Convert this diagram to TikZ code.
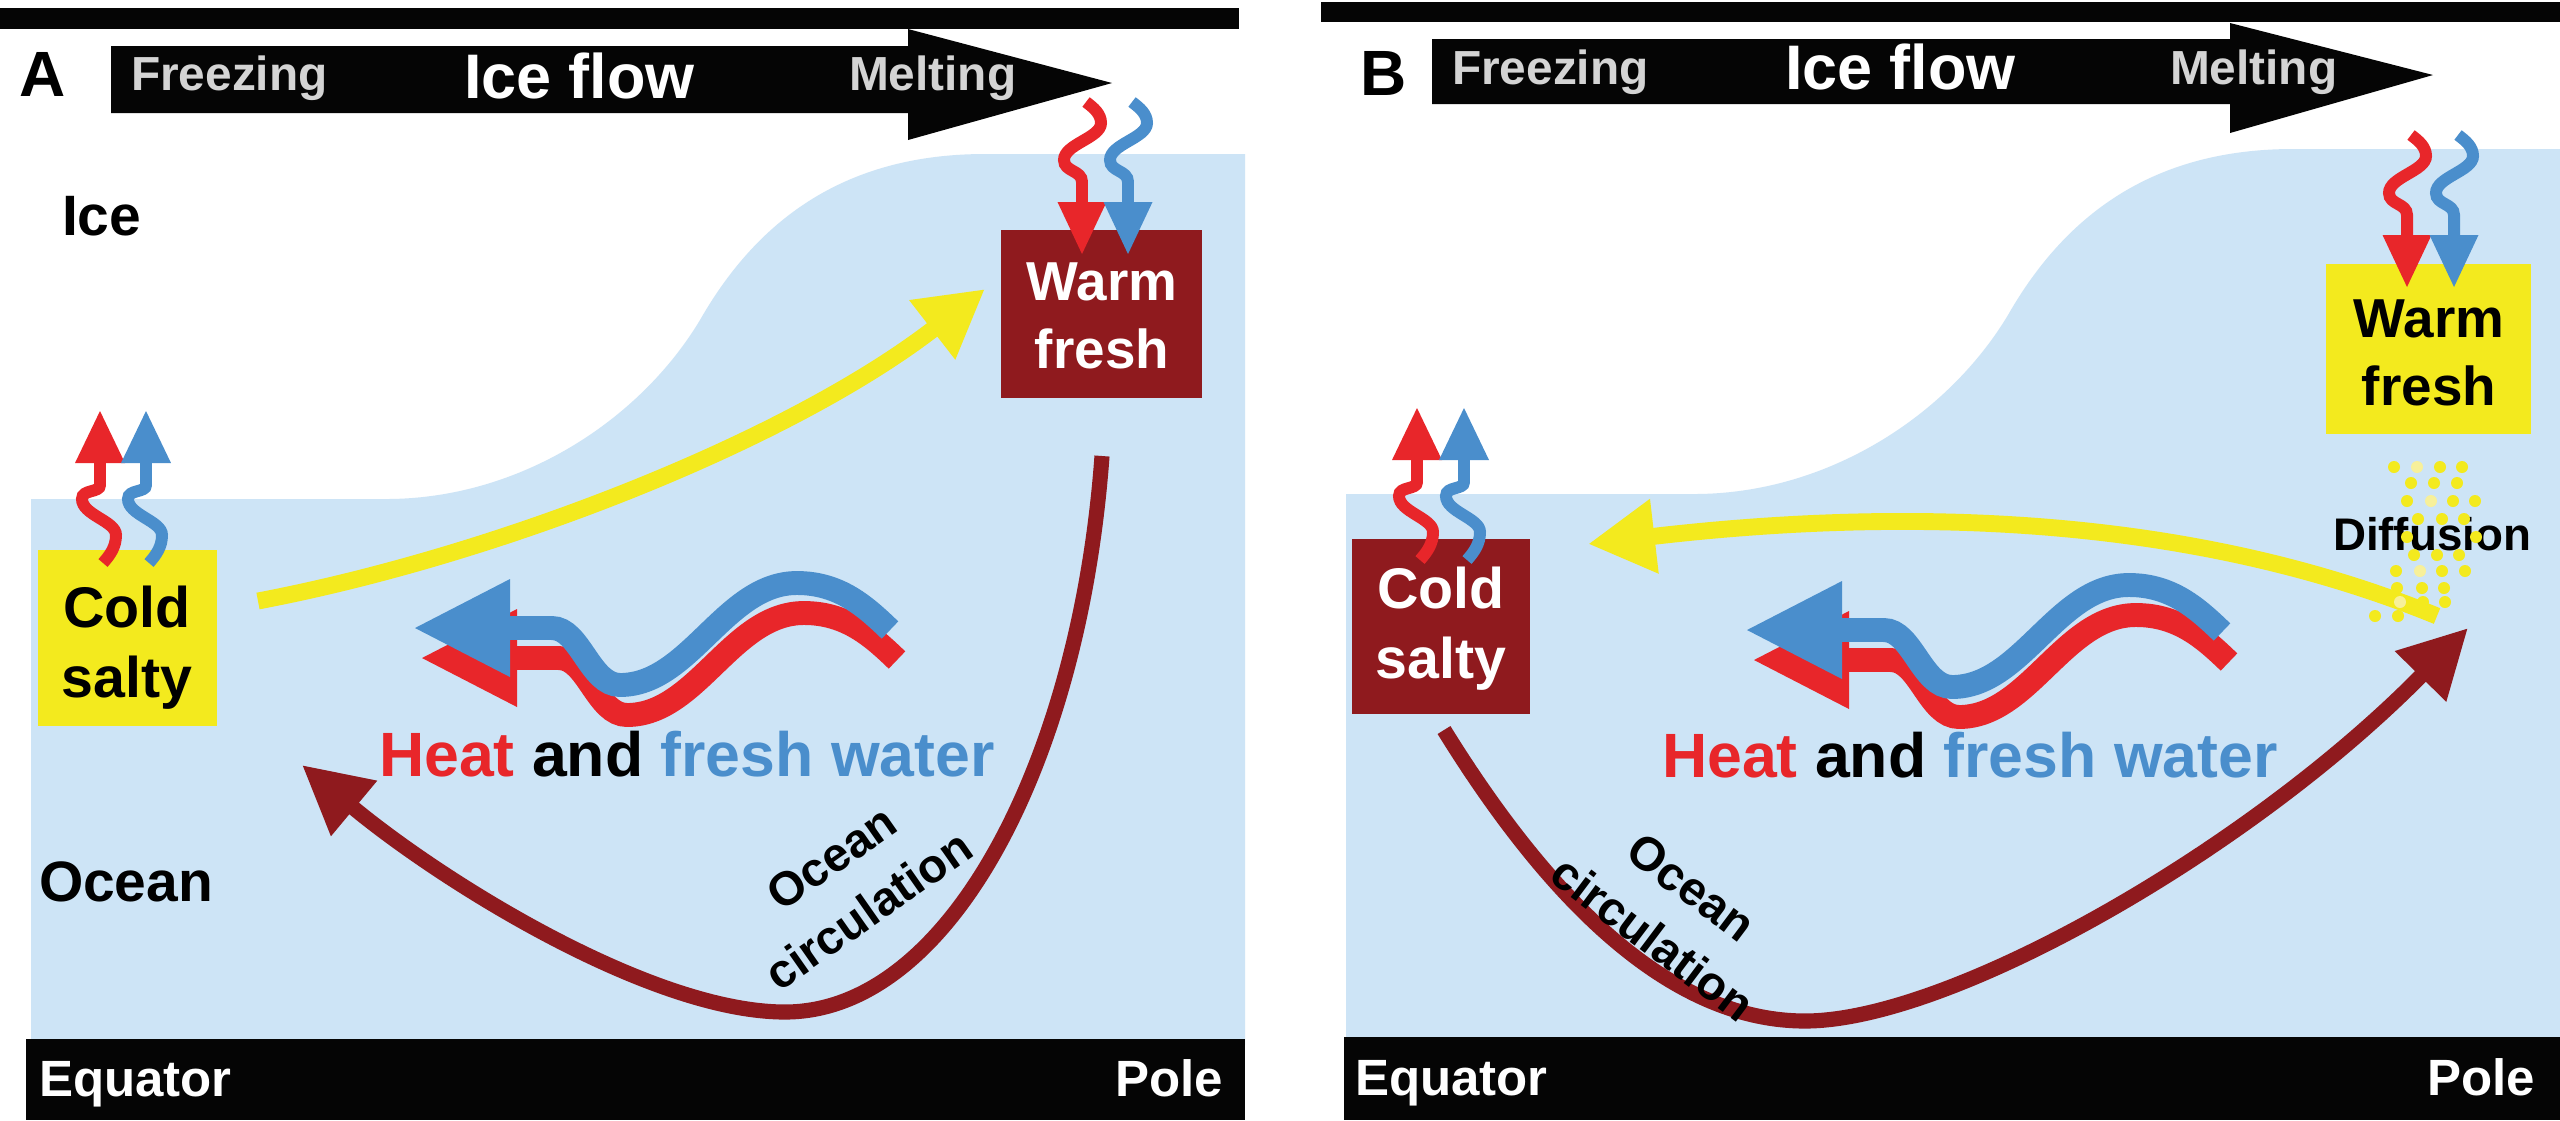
\documentclass[tikz,border=0pt]{standalone}
\usepackage{fontspec}
\setmainfont{Liberation Sans}
\usetikzlibrary{arrows.meta}
\definecolor{oceanblue}{HTML}{CDE4F6}
\definecolor{darkred}{HTML}{8F1A1E}
\definecolor{sunyellow}{HTML}{F3EA1E}
\definecolor{heatred}{HTML}{E8262A}
\definecolor{freshblue}{HTML}{4A8ECC}
\definecolor{greytext}{HTML}{D4D4D4}
\definecolor{barblack}{HTML}{050505}
\definecolor{paledot}{HTML}{F7F09A}
\tikzset{
  txt/.style={inner sep=0pt, outer sep=0pt},
  panelletter/.style={txt, anchor=base west, font=\fontsize{18.2}{20}\selectfont\bfseries},
  flowside/.style={txt, anchor=base west, text=greytext, font=\fontsize{13.6}{16}\selectfont\bfseries},
  flowmain/.style={txt, anchor=base west, text=white, font=\fontsize{17.9}{20}\selectfont\bfseries},
  region/.style={txt, anchor=base west, font=\fontsize{16.2}{18}\selectfont\bfseries},
  barwest/.style={txt, anchor=base west, text=white, font=\fontsize{14.5}{16}\selectfont\bfseries},
  bareast/.style={txt, anchor=base east, text=white, font=\fontsize{14.5}{16}\selectfont\bfseries},
  coldword/.style={txt, anchor=base, font=\fontsize{16.3}{18}\selectfont\bfseries},
  warmword/.style={txt, anchor=base, font=\fontsize{15.6}{18}\selectfont\bfseries},
  waterbox/.style={txt, anchor=north west},
  circlabel/.style={txt, align=center, font=\fontsize{13.5}{18.2}\selectfont\bfseries},
  heatlabel/.style={txt, anchor=base west, font=\fontsize{17.8}{20}\selectfont\bfseries},
  difflabel/.style={txt, anchor=base west, font=\fontsize{13}{15}\selectfont\bfseries},
  circarrow/.style={draw=darkred, line width=4.3pt, -{Triangle[length=19.3pt,width=19.3pt]}},
  yellowarrow/.style={draw=sunyellow, line width=4.8pt, -{Triangle[length=19pt,width=20pt]}},
  waveband/.style={line width=6.8pt, line cap=butt},
  wavyline/.style={line width=3.4pt, line cap=butt},
  pics/meltdown/.style={code={
    \draw[wavyline] (4,-100) .. controls (12,-94) and (19,-88) .. (19,-79)
      .. controls (19,-64) and (-18,-58) .. (-18,-42)
      .. controls (-18,-30) and (0,-32) .. (0,-20) -- (0,2);
    \fill (-24.5,0) -- (24.5,0) -- (0,52) -- cycle;
  }},
  pics/freezeup/.style={code={
    \draw[wavyline] (0,-2) -- (0,22) .. controls (0,30) and (-18,26) .. (-18,36)
      .. controls (-18,52) and (16,58) .. (16,72)
      .. controls (16,84) and (10,92) .. (3,100);
    \fill (-25,0) -- (25,0) -- (0,-52) -- cycle;
  }},
  pics/heatwave/.style={code={
    \draw[waveband, heatred] (512,658) -- (559,658) .. controls (587,658) and (597,715) .. (627,715)
      .. controls (697,715) and (732,613) .. (804,613) .. controls (847,613) and (873,637) .. (897,660);
    \fill[heatred] (422,658) -- (517,609) -- (517,707) -- cycle;
    \draw[waveband, freshblue] (505,628) -- (552,628) .. controls (580,628) and (590,685) .. (620,685)
      .. controls (690,685) and (725,583) .. (797,583) .. controls (840,583) and (866,607) .. (890,630);
    \fill[freshblue] (415,628) -- (510,579) -- (510,677) -- cycle;
  }},
}
\begin{document}
\begin{tikzpicture}[x=0.01cm, y=-0.01cm]
\useasboundingbox (0,0) rectangle (2560,1120);
\fill[white] (0,0) rectangle (2560,1120);

% ocean regions
\fill[oceanblue] (31,1045) -- (31,499) -- (386,499) .. controls (520,499) and (640,420) .. (700,320)
  .. controls (760,215) and (850,154) .. (985,154) -- (1245,154) -- (1245,1045) -- cycle;
\fill[oceanblue] (1346,1045) -- (1346,494) -- (1694,494) .. controls (1828,494) and (1948,415) .. (2008,315)
  .. controls (2068,210) and (2158,149) .. (2293,149) -- (2560,149) -- (2560,1045) -- cycle;

% bars
\fill[barblack] (0,8) rectangle (1239,29);
\fill[barblack] (1321,2) rectangle (2560,22);
\fill[barblack] (26,1039) rectangle (1245,1120);
\fill[barblack] (1344,1037) rectangle (2560,1120);

% ice flow arrows
\fill[barblack] (111,46) -- (908,46) -- (908,29) -- (1112,83) -- (908,140) -- (908,113) -- (111,113) -- cycle;
\fill[barblack] (1432,39) -- (2230,39) -- (2230,23) -- (2433,75) -- (2230,133) -- (2230,104) -- (1432,104) -- cycle;

\node[panelletter] (letA) at (20,96) {A};
\node[flowside] (frzA) at (131,90) {Freezing};
\node[flowmain] (flowA) at (464,98) {Ice flow};
\node[flowside] (meltA) at (849,90) {Melting};
\node[panelletter] (letB) at (1360,95) {B};
\node[flowside] (frzB) at (1452,84) {Freezing};
\node[flowmain] (flowB) at (1785,89) {Ice flow};
\node[flowside] (meltB) at (2170,84) {Melting};

\node[barwest] (eqA) at (39,1096) {Equator};
\node[bareast] (poleA) at (1223,1096) {Pole};
\node[barwest] (eqB) at (1355,1095) {Equator};
\node[bareast] (poleB) at (2535,1095) {Pole};

\node[region] (iceA) at (62,235) {Ice};
\node[region] (oceanA) at (39,901) {Ocean};

% water boxes
\node[waterbox, fill=sunyellow, minimum width=1.79cm, minimum height=1.76cm] (coldA) at (38,550) {};
\node[waterbox, fill=darkred, minimum width=2.01cm, minimum height=1.68cm] (warmA) at (1001,230) {};
\node[waterbox, fill=darkred, minimum width=1.78cm, minimum height=1.75cm] (coldB) at (1352,539) {};
\node[waterbox, fill=sunyellow, minimum width=2.05cm, minimum height=1.70cm] (warmB) at (2326,264) {};

\node[coldword] (coldA1) at (127,627) {Cold};
\node[coldword] (coldA2) at (127,697) {salty};
\node[warmword, text=white] (warmA1) at (1102,300) {Warm};
\node[warmword, text=white] (warmA2) at (1102,368) {fresh};
\node[coldword, text=white] (coldB1) at (1441,608) {Cold};
\node[coldword, text=white] (coldB2) at (1441,678) {salty};
\node[warmword] (warmB1) at (2429,337) {Warm};
\node[warmword] (warmB2) at (2429,405) {fresh};

% ocean circulation
\coordinate (circAstart) at (1102,456);
\coordinate (circAbottom) at (785,1012);
\coordinate (circAend) at (302,765);
\draw[circarrow] (circAstart) .. controls (1080,760) and (950,1012) .. (circAbottom)
  .. controls (650,1012) and (440,880) .. (circAend);
\coordinate (circBstart) at (1444,730);
\coordinate (circBbottom) at (1805,1021);
\coordinate (circBend) at (2468,628);
\draw[circarrow] (circBstart) .. controls (1564,924) and (1684,1021) .. (circBbottom)
  .. controls (1950,1021) and (2250,850) .. (circBend);
\node[circlabel, rotate=35] (circtextA) at (850,884) {Ocean\\circulation};
\node[circlabel, rotate=-37] (circtextB) at (1672,913) {Ocean\\circulation};

% yellow transport arrows
\coordinate (yelAstart) at (258,601);
\coordinate (yelAend) at (985,289);
\draw[yellowarrow] (yelAstart) .. controls (500,555) and (790,440) .. (yelAend);
\coordinate (yelBstart) at (2437,616);
\coordinate (yelBend) at (1588,544);
\draw[yellowarrow] (yelBstart) .. controls (2300,560) and (2050,490) .. (yelBend);

% heat and fresh water waves
\pic (waveA) at (0,0) {heatwave};
\pic (waveB) at (1332,2) {heatwave};
\node[heatlabel] (heatA) at (379,776) {\textcolor{heatred}{Heat} and \textcolor{freshblue}{fresh water}};
\node[heatlabel] (heatB) at (1662,777) {\textcolor{heatred}{Heat} and \textcolor{freshblue}{fresh water}};

% small wavy arrows
\pic[color=heatred] (mdAr) at (1082,202) {meltdown};
\pic[color=freshblue] (mdAb) at (1128,202) {meltdown};
\pic[color=heatred] (mdBr) at (2407,235) {meltdown};
\pic[color=freshblue] (mdBb) at (2454,235) {meltdown};
\pic[color=heatred] (fuAr) at (100,463) {freezeup};
\pic[color=freshblue] (fuAb) at (146,463) {freezeup};
\pic[color=heatred] (fuBr) at (1417,460) {freezeup};
\pic[color=freshblue] (fuBb) at (1464,460) {freezeup};

% diffusion
\node[difflabel] (diff) at (2333,550) {Diffusion};
\foreach \px/\py in {2394/467,2440/467,2462/467,
  2411/483,2434/483,2457/483,
  2407/501,2453/501,2475/501,
  2418/519,2442/519,2464/519,
  2407/537,2476/537,
  2414/555,2437/555,2459/555,
  2396/571,2442/571,2465/571,
  2397/588,2422/588,2444/588,
  2423/602,2445/602,
  2375/616,2398/616}
  \fill[sunyellow] (\px,\py) circle[radius=0.06cm];
\foreach \px/\py in {2417/467,2431/501,2420/571,2400/602}
  \fill[paledot] (\px,\py) circle[radius=0.06cm];
\end{tikzpicture}
\end{document}
